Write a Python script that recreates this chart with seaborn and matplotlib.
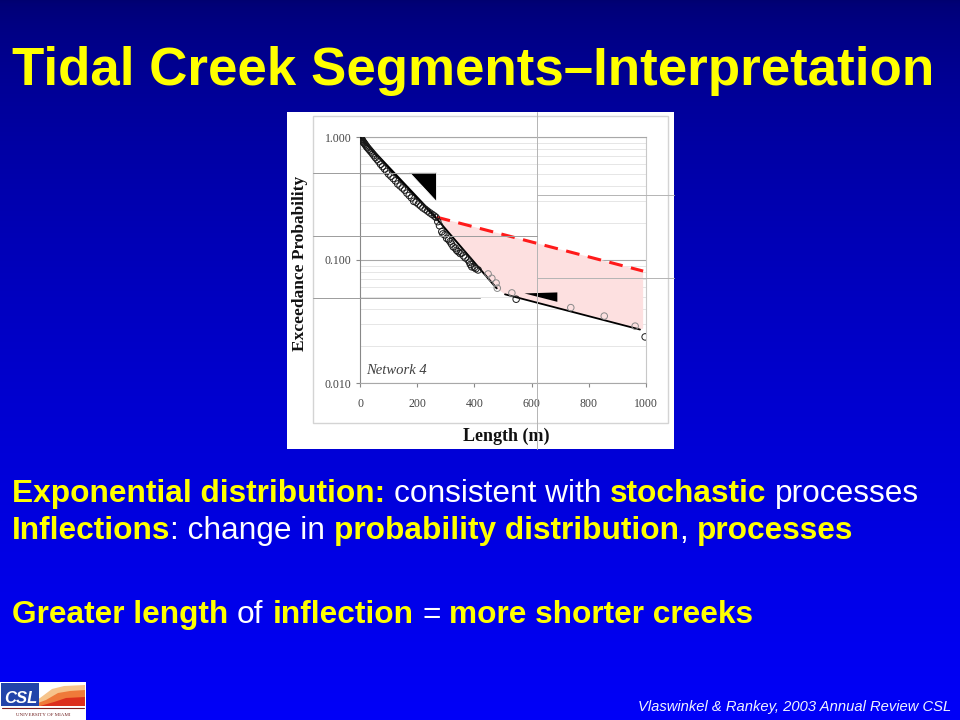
import matplotlib
matplotlib.use("Agg")
import matplotlib.pyplot as plt
import seaborn as sns
import numpy as np
import pandas as pd
from matplotlib.lines import Line2D
from matplotlib.patches import Rectangle, Polygon
from matplotlib.ticker import FixedLocator, FuncFormatter, LogLocator, NullFormatter

# ---- chart data ----
# upper segment, dense points (length m, exceedance probability)
upper_len = [0, 2, 4, 5, 7, 9, 11, 13, 15, 18, 21, 24, 27, 31, 35, 39, 44, 49, 54, 60,
             66, 72, 79, 86, 93, 100, 108, 116, 124, 132, 140, 148, 156, 164, 172, 180,
             188, 196, 204, 212, 220, 228, 236, 244, 252, 260, 266]
upper_prob = [1.000, 0.995, 0.985, 0.960, 0.950, 0.930, 0.915, 0.900, 0.890, 0.870, 0.850,
              0.830, 0.815, 0.795, 0.775, 0.755, 0.730, 0.705, 0.680, 0.655, 0.630, 0.600,
              0.575, 0.550, 0.525, 0.500, 0.480, 0.460, 0.440, 0.415, 0.400, 0.385, 0.370,
              0.350, 0.335, 0.320, 0.300, 0.295, 0.285, 0.275, 0.265, 0.258, 0.250, 0.242,
              0.235, 0.228, 0.222]
# middle segment points
mid_len = [272, 278, 286, 290, 297, 303, 310, 315, 320, 326, 333, 338, 343, 350, 356,
           362, 368, 378, 383, 386, 391, 400, 405, 413]
mid_prob = [0.205, 0.190, 0.170, 0.163, 0.160, 0.150, 0.146, 0.141, 0.135, 0.128, 0.125,
            0.120, 0.117, 0.113, 0.114, 0.108, 0.104, 0.100, 0.096, 0.092, 0.088, 0.087,
            0.085, 0.083]
# grey points
grey_len = [448, 461, 476, 480, 531, 737, 854, 962]
grey_prob = [0.077, 0.071, 0.065, 0.059, 0.054, 0.041, 0.035, 0.029]
# black tail points
tail_len = [546, 997]
tail_prob = [0.048, 0.0237]

# fitted lines
fit1_len, fit1_prob = [0, 262], [1.0, 0.225]
fit2_len, fit2_prob = [262, 478], [0.225, 0.0588]
fit3_len, fit3_prob = [507, 979], [0.0526, 0.0272]
extrap_len, extrap_prob = [268, 990], [0.223, 0.0813]
# shaded area between extrapolation and observed curve
shade_len = [268, 990, 990, 979, 507, 478, 268]
shade_prob = [0.223, 0.0813, 0.0277, 0.0272, 0.0526, 0.0588, 0.223]
# slope wedges
wedge1_len, wedge1_prob = [171, 265, 265], [0.518, 0.518, 0.299]
wedge2_len, wedge2_prob = [575, 690, 690], [0.0535, 0.0545, 0.0457]

x_ticks = [0, 200, 400, 600, 800, 1000]
y_ticks = [0.01, 0.1, 1.0]

title = "Tidal Creek Segments\u2013Interpretation"
YEL, WHT = "#ffff00", "#ffffff"
lines_txt = [
    [("Exponential distribution:", True, YEL), (" consistent with ", False, WHT),
     ("stochastic", True, YEL), (" processes", False, WHT)],
    [("Inflections", True, YEL), (": change in ", False, WHT),
     ("probability distribution", True, YEL), (", ", False, WHT), ("processes", True, YEL)],
    [("Greater length", True, YEL), (" of ", False, WHT), ("inflection", True, YEL),
     (" = ", False, WHT), ("more shorter creeks", True, YEL)],
]
footer = "Vlaswinkel & Rankey, 2003 Annual Review CSL"

# ---- figure ----
sns.set_theme(style="white")
SANS = ["Liberation Sans", "DejaVu Sans"]
SERIF = ["Liberation Serif", "DejaVu Serif"]
plt.rcParams["font.family"] = SANS

DPI = 100
fig = plt.figure(figsize=(9.6, 7.2), dpi=DPI)
renderer = fig.canvas.get_renderer()

# slide background in pixel coordinates
bg = fig.add_axes([0, 0, 1, 1])
bg.set_xlim(0, 960)
bg.set_ylim(720, 0)
bg.axis("off")
t = np.linspace(0, 1, 720) ** 0.6
grad = np.zeros((720, 1, 3))
grad[:, 0, 2] = (112 + 136 * t) / 255
bg.imshow(grad, extent=[0, 960, 720, 0], aspect="auto", zorder=0)

# picture of the chart
bg.add_patch(Rectangle((287, 112), 387, 337, facecolor="white", edgecolor="none", zorder=1))
bg.add_patch(Rectangle((313, 116), 355, 307, facecolor="none", edgecolor="#d4d4d4", lw=1, zorder=2))
bg.text(300, 263, "Exceedance Probability", family=SERIF, fontweight="bold", fontsize=12.5,
        color="#111111", rotation=90, ha="center", va="center", zorder=3)


def fit_text(x, y, s, width, **kw):
    tx = bg.text(x, y, s, fontsize=20, va="baseline", ha="left", **kw)
    w = tx.get_window_extent(renderer).width
    tx.set_fontsize(20 * width / w)
    return tx


fit_text(12, 85, title, 920, color=YEL, fontweight="bold", family=SANS)


def put_runs(runs, x0, base, size, draw=True):
    x = x0
    em = size * DPI / 72
    made = []
    for txt, bold, colour in runs:
        lead = len(txt) - len(txt.lstrip(" "))
        trail = len(txt) - len(txt.rstrip(" "))
        x += lead * 0.278 * em
        tx = bg.text(x, base, txt.strip(" "), color=colour, fontsize=size,
                     fontweight="bold" if bold else "normal", family=SANS,
                     va="baseline", ha="left", zorder=3)
        x += tx.get_window_extent(renderer).width + trail * 0.278 * em
        made.append(tx)
    if not draw:
        for tx in made:
            tx.remove()
    return x


end = put_runs(lines_txt[0], 12, 498, 19, draw=False)
body_size = 19 * (921 - 12) / (end - 12)
for runs, base in zip(lines_txt, [502, 539, 623]):
    put_runs(runs, 12, base, body_size)

fit_text(638, 711, footer, 312, color="#f0f4ff", style="italic", family=SANS)

# logo
bg.add_patch(Rectangle((0, 682), 86, 38, facecolor="white", edgecolor="none", zorder=2))
bg.add_patch(Polygon([(24, 706), (40, 698), (52, 689), (64, 686), (85, 685), (85, 706)],
                     closed=True, facecolor="#f6c48c", edgecolor="none", zorder=3))
bg.add_patch(Polygon([(30, 706), (46, 700), (58, 693), (70, 691), (85, 690), (85, 706)],
                     closed=True, facecolor="#ef7a3a", edgecolor="none", zorder=3))
bg.add_patch(Polygon([(40, 706), (54, 702), (66, 698), (85, 697), (85, 706)],
                     closed=True, facecolor="#dc2e1c", edgecolor="none", zorder=3))
bg.add_patch(Rectangle((1, 683), 38, 23, facecolor="#2244aa", edgecolor="none", zorder=4))
bg.text(4, 703, "CSL", color="white", fontsize=12, style="italic", fontweight="bold",
        family=SANS, va="baseline", zorder=5)
bg.plot([2, 84], [707.5, 707.5], color="#802020", lw=0.8, zorder=5)
bg.text(43, 715, "UNIVERSITY OF MIAMI", color="#702020", fontsize=3.6, family=SERIF,
        ha="center", va="center", zorder=5)

# ---- the chart itself ----
ax = fig.add_axes([360 / 960, 1 - 383 / 720, 286 / 960, 246 / 720])
ax.set_facecolor("white")
ax.set_yscale("log")
ax.set_xlim(0, 1000)
ax.set_ylim(0.01, 1.0)

ax.fill(shade_len, shade_prob, color="#fde0e0", lw=0, zorder=1)

sns.lineplot(x=fit1_len, y=fit1_prob, color="black", lw=1.9, ax=ax, zorder=3)
sns.lineplot(x=fit2_len, y=fit2_prob, color="black", lw=1.4, ax=ax, zorder=3)
sns.lineplot(x=fit3_len, y=fit3_prob, color="black", lw=1.3, ax=ax, zorder=3)
sns.lineplot(x=extrap_len, y=extrap_prob, color="#ff1a1a", lw=2.2, ax=ax, zorder=3,
             linestyle=(0, (4.5, 2.8)))

pts = pd.DataFrame({"len": upper_len + mid_len + tail_len,
                    "prob": upper_prob + mid_prob + tail_prob})
sns.scatterplot(data=pts, x="len", y="prob", ax=ax, marker="o", s=22,
                facecolor="none", edgecolor="#1a1a1a", linewidth=0.7, zorder=4)
sns.scatterplot(x=grey_len, y=grey_prob, ax=ax, marker="o", s=22,
                facecolor="none", edgecolor="#8a8a8a", linewidth=0.7, zorder=4)

ax.fill(wedge1_len, wedge1_prob, color="black", ec="white", lw=0.6, zorder=5)
ax.fill(wedge2_len, wedge2_prob, color="black", lw=0, zorder=5)

ax.text(20, 0.0118, "Network 4", family=SERIF, style="italic", fontsize=10.5,
        color="#404040", zorder=5)

ax.xaxis.set_major_locator(FixedLocator(x_ticks))
ax.yaxis.set_major_locator(FixedLocator(y_ticks))
ax.yaxis.set_major_formatter(FuncFormatter(lambda v, p: f"{v:.3f}"))
ax.yaxis.set_minor_locator(LogLocator(base=10, subs=np.arange(2, 10)))
ax.yaxis.set_minor_formatter(NullFormatter())
ax.grid(False)
ax.grid(which="major", axis="y", color="#a8a8a8", lw=0.8)
ax.grid(which="minor", axis="y", color="#e2e2e2", lw=0.6)
ax.tick_params(axis="both", which="major", direction="out", length=3, width=0.8,
               color="#888888", labelsize=8.5, labelcolor="#444444", left=True, bottom=True)
ax.tick_params(axis="x", which="major", pad=8)
ax.tick_params(axis="y", which="major", pad=3)
ax.tick_params(which="minor", length=0)
for lab in ax.get_xticklabels() + ax.get_yticklabels():
    lab.set_family(SERIF)
ax.spines["left"].set_color("#888888")
ax.spines["bottom"].set_color("#a8a8a8")
ax.spines["right"].set_color("#c8c8c8")
ax.spines["top"].set_color("#a8a8a8")
for sp in ax.spines.values():
    sp.set_linewidth(0.8)

ax.set_xlabel("Length (m)", family=SERIF, fontweight="bold", fontsize=13, color="#111111")
ax.set_ylabel("")
ax.xaxis.set_label_coords(0.51, -0.18)

# stray grey lines over the pasted picture
def px_line(x0, y0, x1, y1, col):
    fig.add_artist(Line2D([x0 / 960, x1 / 960], [1 - y0 / 720, 1 - y1 / 720],
                          transform=fig.transFigure, color=col, lw=0.7, zorder=6))

px_line(537, 112, 537, 449, "#b4b4b4")
px_line(537, 195, 674, 195, "#b4b4b4")
px_line(537, 278, 674, 278, "#b4b4b4")
px_line(313, 173, 435, 173, "#9c9c9c")
px_line(313, 236, 537, 236, "#9c9c9c")
px_line(313, 298, 480, 298, "#9c9c9c")

fig.savefig("out.png", dpi=DPI)
